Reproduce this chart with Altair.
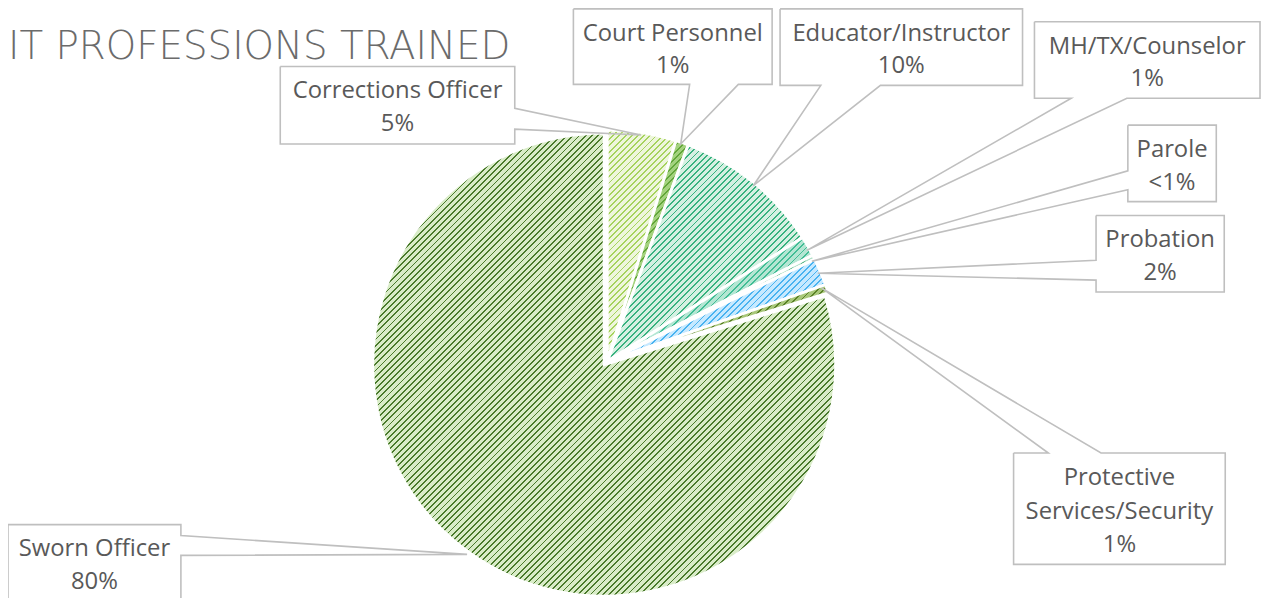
import math
import altair as alt
import pandas as pd

# ---------------- data ----------------
categories = ["Corrections Officer", "Court Personnel", "Educator/Instructor",
              "MH/TX/Counselor", "Parole", "Probation",
              "Protective Services/Security", "Sworn Officer"]
shares = [4.8, 0.9, 10.3, 1.4, 0.3, 1.9, 0.6, 79.8]
pct_labels = ["5%", "1%", "10%", "1%", "<1%", "2%", "1%", "80%"]
label_lines = [["Corrections Officer"], ["Court Personnel"], ["Educator/Instructor"],
               ["MH/TX/Counselor"], ["Parole"], ["Probation"],
               ["Protective", "Services/Security"], ["Sworn Officer"]]
title_text = "IT PROFESSIONS TRAINED"

# ---------------- styles ----------------
base_colors = ["#eef6dc", "#a3d27e", "#d5f0e2", "#b4e6d3", "#acdfc4", "#c6e9ff", "#a8c77a", "#d9ecc8"]
line_colors = ["#a6d35e", "#62a63a", "#38b27f", "#41bd95", "#4fb381", "#49b3f0", "#5a8226", "#4a7a2c"]
OFF = 8                      # page margin -> chart coordinates
CX, CY, R = 608, 365, 233    # pie centre / radius in page pixels
EXPLODE = (3, -3)            # small shift of the non-dominant slices
TEXT_COLOR = "#595959"
BOX_COLOR = "#bfbfbf"

# callout layout in page pixels: box (x0, y0, x1, y1), pointer side, pointer bases, tip
callouts = [
    dict(box=(282, 65, 518, 143), side="right", b=(107, 128), tip=(645, 134)),
    dict(box=(577, 7, 777, 83), side="bottom", b=(694, 743), tip=(685, 143)),
    dict(box=(785, 7, 1029, 84), side="bottom", b=(826, 886), tip=(758, 185)),
    dict(box=(1041, 20, 1268, 97), side="bottom", b=(1078, 1134), tip=(812, 250)),
    dict(box=(1135, 124, 1224, 201), side="left", b=(170, 189), tip=(817, 261)),
    dict(box=(1103, 215, 1232, 292), side="left", b=(260, 280), tip=(823, 273)),
    dict(box=(1020, 454, 1233, 566), side="top", b=(1055, 1108), tip=(827, 288)),
    dict(box=(8, 526, 182, 640), side="right", b=(537, 557), tip=(470, 556)),
]


def sector_bbox(a0, a1, r):
    pts = [(0.0, 0.0), (r * math.sin(a0), -r * math.cos(a0)), (r * math.sin(a1), -r * math.cos(a1))]
    for k in range(0, 5):
        a = k * math.pi / 2
        if a0 <= a <= a1:
            pts.append((r * math.sin(a), -r * math.cos(a)))
    xs = [p[0] for p in pts]
    ys = [p[1] for p in pts]
    return max(max(xs) - min(xs), 1.0), max(max(ys) - min(ys), 1.0)


def hatch(base, line, w, h, period=4.4, frac=0.3):
    nx = ny = math.sqrt(0.5)
    L = nx * w + ny * h
    ux, uy = nx * w, ny * h
    lam = L / (ux * ux + uy * uy)
    x2, y2 = lam * ux, lam * uy
    p = period / L
    n = int(L / period) + 1
    stops = []
    for k in range(n):
        t0 = k * p
        t1 = min(t0 + p * (1 - frac), 1.0)
        t2 = min(t0 + p, 1.0)
        stops += [(t0, base), (t1, base), (t1, line), (t2, line)]
        if t2 >= 1.0:
            break
    return {"gradient": "linear", "x1": 0, "y1": 0, "x2": round(x2, 6), "y2": round(y2, 6),
            "stops": [{"offset": round(min(o, 1.0), 6), "color": c} for o, c in stops]}


total = sum(shares)
pie_df = pd.DataFrame({"category": categories, "share": shares, "order": list(range(len(categories)))})

layers = []
cum = 0.0
for i, cat in enumerate(categories):
    a0 = cum / total * 2 * math.pi
    cum += shares[i]
    a1 = cum / total * 2 * math.pi
    w, h = sector_bbox(a0, a1, R)
    dx, dy = (0, 0) if cat == "Sworn Officer" else EXPLODE
    layer = (
        alt.Chart(pie_df)
        .transform_window(cum="sum(share)", sort=[alt.SortField("order")], frame=[None, 0])
        .transform_calculate(start="datum.cum - datum.share")
        .transform_filter(alt.datum.category == cat)
        .mark_arc(fill=hatch(base_colors[i], line_colors[i], w, h), stroke="white",
                  strokeWidth=3, radius=R)
        .encode(
            theta=alt.Theta("start:Q", scale=alt.Scale(domain=[0, total])),
            theta2="cum:Q",
            x=alt.value(CX - OFF + dx),
            y=alt.value(CY - OFF + dy),
        )
    )
    layers.append(layer)

# callout outlines
rows = []
for ci, c in enumerate(callouts):
    x0, y0, x1, y1 = c["box"]
    tx, ty = c["tip"]
    b0, b1 = c["b"]
    if c["side"] == "right":
        path = [(x0, y0), (x1, y0), (x1, b0), (tx, ty), (x1, b1), (x1, y1), (x0, y1), (x0, y0)]
    elif c["side"] == "bottom":
        path = [(x0, y0), (x1, y0), (x1, y1), (b1, y1), (tx, ty), (b0, y1), (x0, y1), (x0, y0)]
    elif c["side"] == "left":
        path = [(x0, y0), (x1, y0), (x1, y1), (x0, y1), (x0, b1), (tx, ty), (x0, b0), (x0, y0)]
    else:  # top
        path = [(x0, y0), (b0, y0), (tx, ty), (b1, y0), (x1, y0), (x1, y1), (x0, y1), (x0, y0)]
    for s, (px, py) in enumerate(path):
        rows.append({"callout": ci, "seq": s, "x": px - OFF, "y": py - OFF})
outline_df = pd.DataFrame(rows)

outlines = (
    alt.Chart(outline_df)
    .mark_line(stroke=BOX_COLOR, strokeWidth=1.6, strokeJoin="miter")
    .encode(
        x=alt.X("x:Q", scale=None, axis=None),
        y=alt.Y("y:Q", scale=None, axis=None),
        detail="callout:N",
        order="seq:Q",
    )
)

# label texts
trows = []
for ci, c in enumerate(callouts):
    x0, y0, x1, y1 = c["box"]
    lines = label_lines[ci] + [pct_labels[ci]]
    spacing = 34 if len(lines) > 2 else 33
    for li, t in enumerate(lines):
        trows.append({"x": (x0 + x1) / 2 - OFF, "y": y0 + 32 + li * spacing - OFF, "text": t})
text_df = pd.DataFrame(trows)

texts = (
    alt.Chart(text_df)
    .mark_text(font="Open Sans", fontSize=24, color=TEXT_COLOR, align="center", baseline="alphabetic")
    .encode(
        x=alt.X("x:Q", scale=None, axis=None),
        y=alt.Y("y:Q", scale=None, axis=None),
        text="text:N",
    )
)

title = (
    alt.Chart(pd.DataFrame({"t": [title_text]}))
    .mark_text(font="DejaVu Sans", fontWeight=200, fontSize=39, color="#6b6b6b",
               align="left", baseline="alphabetic")
    .encode(x=alt.value(0), y=alt.value(57 - OFF), text="t:N")
)

chart = (
    alt.layer(*layers, outlines, texts, title)
    .properties(width=1262, height=590, padding=0, autosize=alt.AutoSizeParams(type="none"))
    .configure_view(stroke=None)
)

chart.save("out.html", embed_options={"renderer": "svg", "actions": False})
